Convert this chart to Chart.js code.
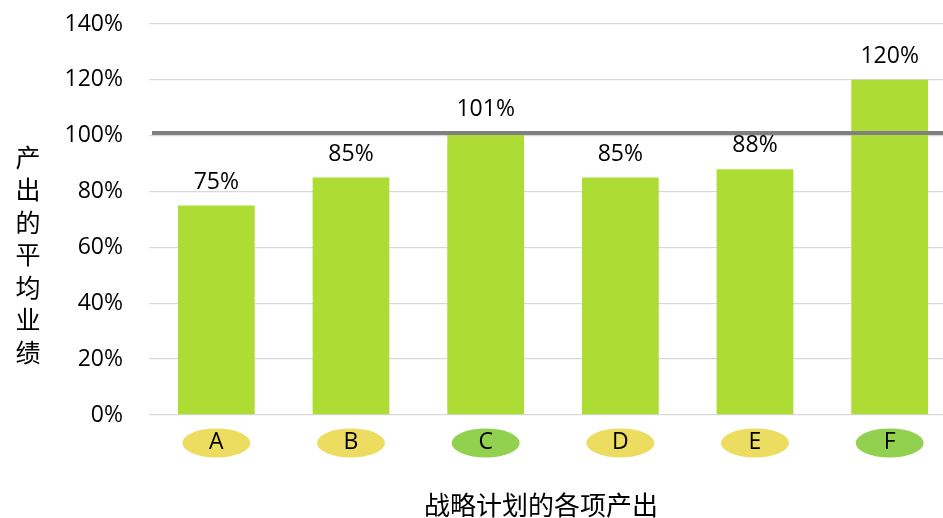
<!DOCTYPE html>
<html>
<head>
<meta charset="utf-8">
<script src="https://cdn.jsdelivr.net/npm/chart.js@4"></script>
<style>
  html, body { margin: 0; padding: 0; background: #fff; overflow: hidden; }
  #wrap { width: 943px; height: 518px; overflow: hidden; }
</style>
</head>
<body>
<div id="wrap"><canvas id="chart" width="957" height="518"></canvas></div>
<script>
const categories = ['A', 'B', 'C', 'D', 'E', 'F'];
const outputValues = [75, 85, 101, 85, 88, 120];
const badgeColors = ['#ecdc5f', '#ecdc5f', '#92d050', '#ecdc5f', '#ecdc5f', '#92d050'];
const targetLine = 101;
const yMin = 0;
const yMax = 140;
const yStep = 20;
const yTitle = '产出的平均业绩';
const xTitle = '战略计划的各项产出';

const latinFont = "'Open Sans', 'Noto Sans CJK SC', sans-serif";
const cjkFont = "'Noto Sans CJK SC', sans-serif";

const decorations = {
    id: 'decorations',
    beforeDraw(chart) {
        // coloured ellipses behind the category letters
        const { ctx } = chart;
        const x = chart.scales.x;
        ctx.save();
        categories.forEach((c, i) => {
            ctx.fillStyle = badgeColors[i];
            ctx.beginPath();
            ctx.ellipse(x.getPixelForValue(i), x.top + 28, 34, 14.5, 0, 0, Math.PI * 2);
            ctx.fill();
        });
        ctx.restore();
    },
    afterDatasetsDraw(chart) {
        const { ctx, chartArea } = chart;
        const y = chart.scales.y;

        // reference line
        const ly = y.getPixelForValue(targetLine);
        ctx.save();
        ctx.strokeStyle = '#808080';
        ctx.lineWidth = 4;
        ctx.beginPath();
        ctx.moveTo(chartArea.left + 3, ly);
        ctx.lineTo(chart.width, ly);
        ctx.stroke();

        // value labels above bars
        ctx.fillStyle = '#000';
        ctx.font = '23px ' + latinFont;
        ctx.textAlign = 'center';
        ctx.textBaseline = 'alphabetic';
        chart.getDatasetMeta(0).data.forEach((bar, i) => {
            ctx.fillText(outputValues[i] + '%', bar.x, bar.y - 17);
        });
        ctx.restore();
    },
    afterDraw(chart) {
        const { ctx } = chart;
        ctx.save();
        ctx.fillStyle = '#000';
        ctx.textAlign = 'center';
        ctx.textBaseline = 'middle';

        // vertical y title, one character per line
        ctx.font = '25px ' + cjkFont;
        [...yTitle].forEach((ch, i) => {
            ctx.fillText(ch, 28, 157 + i * 32.5);
        });

        // x title
        ctx.font = '26px ' + cjkFont;
        ctx.fillText(xTitle, 541, 505);
        ctx.restore();
    }
};

new Chart(document.getElementById('chart').getContext('2d'), {
    type: 'bar',
    data: {
        labels: categories,
        datasets: [{
            data: outputValues,
            backgroundColor: '#addc34',
            borderWidth: 0,
            barPercentage: 1,
            categoryPercentage: 0.57
        }]
    },
    options: {
        responsive: false,
        animation: false,
        layout: { padding: { top: 24, right: 0, bottom: 0, left: 0 } },
        plugins: {
            legend: { display: false },
            tooltip: { enabled: false }
        },
        scales: {
            x: {
                grid: { display: false, drawTicks: false },
                border: { display: false },
                ticks: {
                    padding: 14,
                    color: '#000',
                    font: { family: latinFont, size: 23 }
                },
                afterFit(scale) { scale.height = 103; }
            },
            y: {
                min: yMin,
                max: yMax,
                grid: { color: '#d9d9d9', lineWidth: 1.3, drawTicks: false },
                border: { display: false },
                ticks: {
                    stepSize: yStep,
                    padding: 26,
                    color: '#000',
                    font: { family: latinFont, size: 23 },
                    callback: v => v + '%'
                },
                afterFit(scale) {
                    scale.width = 149;
                    scale.paddingTop = 0;
                    scale.paddingBottom = 0;
                }
            }
        }
    },
    plugins: [decorations]
});
</script>
</body>
</html>
